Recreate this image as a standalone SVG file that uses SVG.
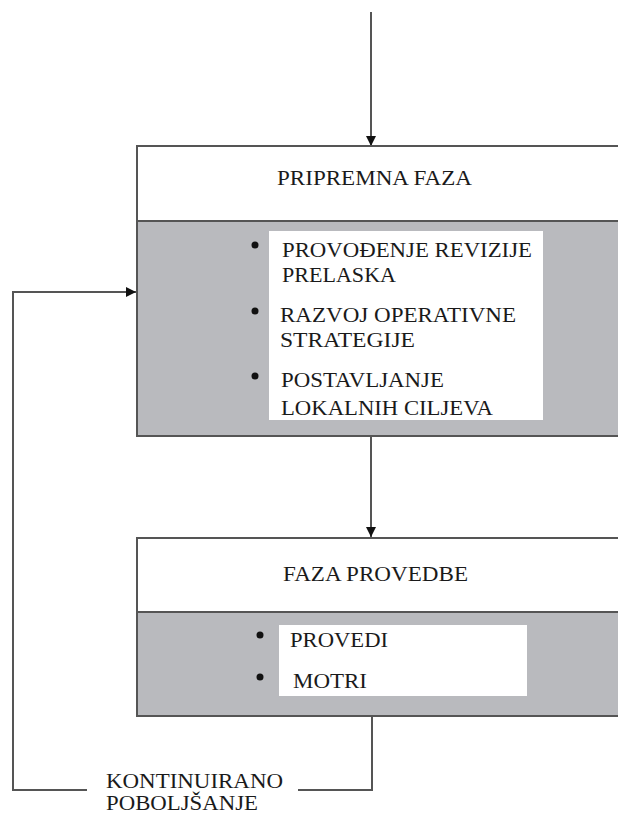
<svg xmlns="http://www.w3.org/2000/svg" width="618" height="814" viewBox="0 0 618 814">
<defs>
<style>
.t{font-family:"Liberation Serif","Times New Roman",serif;font-size:20px;fill:#1a1a1a}
.ln{stroke:#555;stroke-width:2;fill:none}
.hd{fill:#fff}
.bd{fill:#b9babe}
.inner{fill:#fff}
.bul{fill:#111}
</style>
<marker id="ah" viewBox="0 0 10 10" refX="10" refY="5" markerWidth="10" markerHeight="10" markerUnits="userSpaceOnUse" orient="auto">
<path d="M0,0 L10,5 L0,10 z" fill="#111"/>
</marker>
</defs>
<rect width="618" height="814" fill="#fff"/>
<g id="connectors">
<line class="ln" x1="371" y1="12" x2="371" y2="146" marker-end="url(#ah)"/>
<line class="ln" x1="371" y1="436" x2="371" y2="537" marker-end="url(#ah)"/>
<polyline class="ln" points="372,716 372,790 298,790"/>
<polyline class="ln" points="87,790 13,790 13,292 136,292" marker-end="url(#ah)"/>
</g>
<g id="priprema">
<rect class="hd" x="137" y="146" width="490" height="75"/>
<rect class="bd" x="137" y="221" width="490" height="215"/>
<path class="ln" d="M627,146 H137 V436 H627 M137,221 H627"/>
<rect class="inner" x="269" y="231" width="274" height="189"/>
<text class="t" x="277" y="185" textLength="195" lengthAdjust="spacingAndGlyphs">PRIPREMNA FAZA</text>
<circle class="bul" cx="255" cy="245" r="3.5"/>
<circle class="bul" cx="255" cy="311" r="3.5"/>
<circle class="bul" cx="255" cy="376" r="3.5"/>
<text class="t" x="282" y="257" textLength="250" lengthAdjust="spacingAndGlyphs">PROVOĐENJE REVIZIJE</text>
<text class="t" x="282" y="282" textLength="114" lengthAdjust="spacingAndGlyphs">PRELASKA</text>
<text class="t" x="280" y="322" textLength="236" lengthAdjust="spacingAndGlyphs">RAZVOJ OPERATIVNE</text>
<text class="t" x="280" y="347" textLength="135" lengthAdjust="spacingAndGlyphs">STRATEGIJE</text>
<text class="t" x="281" y="387" textLength="163" lengthAdjust="spacingAndGlyphs">POSTAVLJANJE</text>
<text class="t" x="281" y="415" textLength="212" lengthAdjust="spacingAndGlyphs">LOKALNIH CILJEVA</text>
</g>
<g id="provedba">
<rect class="hd" x="137" y="538" width="490" height="74"/>
<rect class="bd" x="137" y="612" width="490" height="104"/>
<path class="ln" d="M627,538 H137 V716 H627 M137,612 H627"/>
<rect class="inner" x="279" y="625" width="248" height="71"/>
<text class="t" x="283" y="581" textLength="185" lengthAdjust="spacingAndGlyphs">FAZA PROVEDBE</text>
<circle class="bul" cx="260" cy="635" r="3.5"/>
<circle class="bul" cx="260" cy="677" r="3.5"/>
<text class="t" x="290" y="647" textLength="98" lengthAdjust="spacingAndGlyphs">PROVEDI</text>
<text class="t" x="293" y="688" textLength="74" lengthAdjust="spacingAndGlyphs">MOTRI</text>
</g>
<g id="label">
<text class="t" x="106" y="788" textLength="177" lengthAdjust="spacingAndGlyphs">KONTINUIRANO</text>
<text class="t" x="106" y="810" textLength="152" lengthAdjust="spacingAndGlyphs">POBOLJŠANJE</text>
</g>
</svg>
